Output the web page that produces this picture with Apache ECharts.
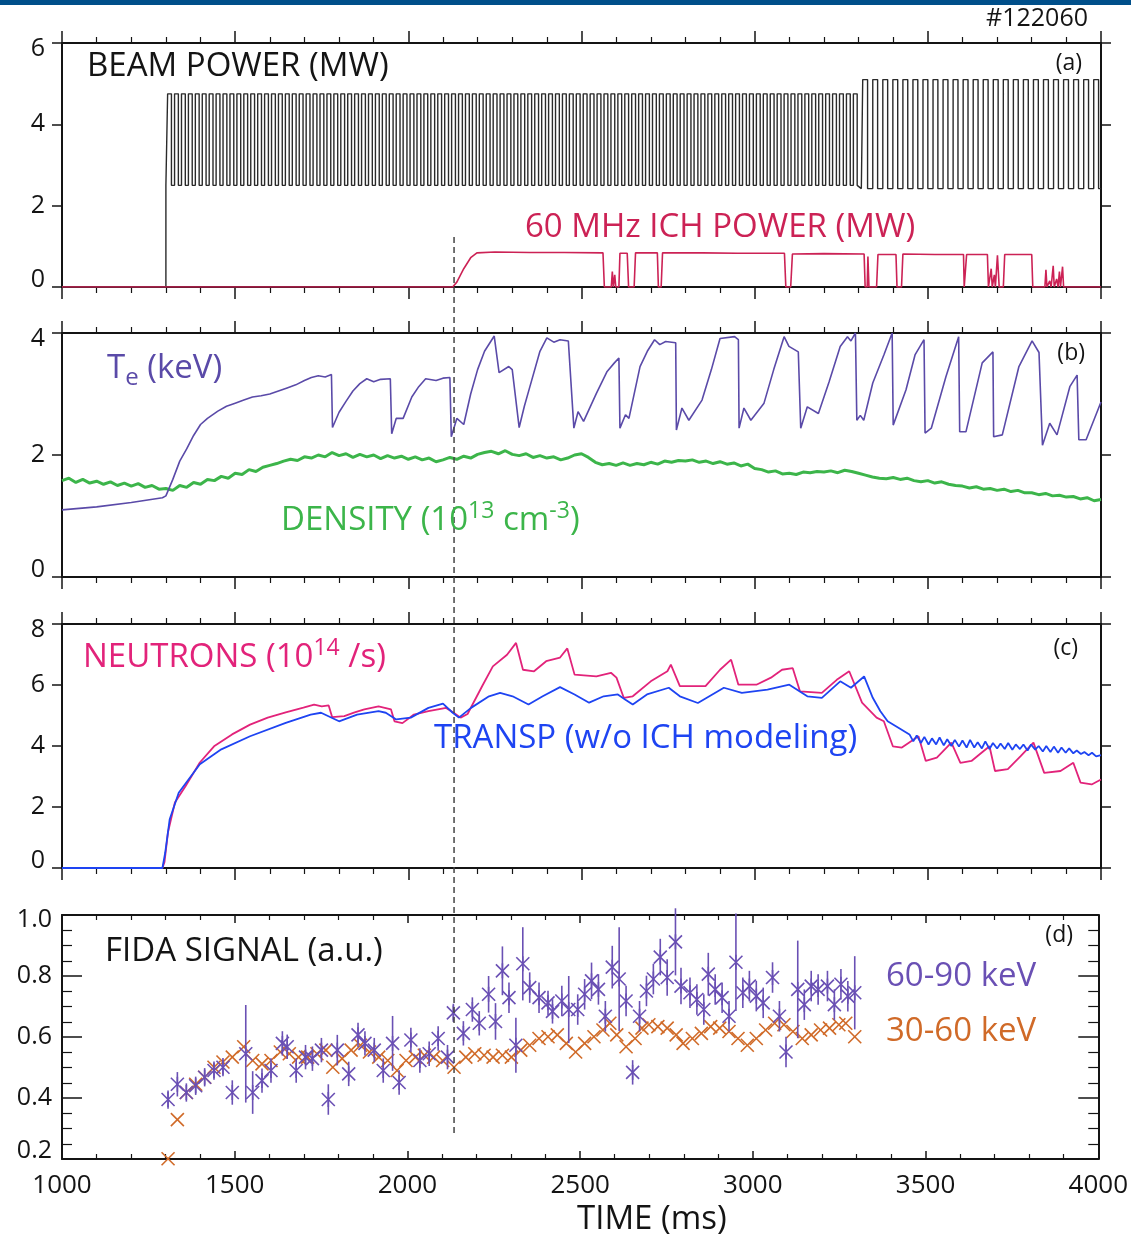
<!DOCTYPE html>
<html><head><meta charset="utf-8">
<script src="https://cdn.jsdelivr.net/npm/echarts@6/dist/echarts.min.js"></script>
<style>html,body{margin:0;padding:0;background:#fff;}#c{width:1131px;height:1241px;}</style>
</head><body><div id="c"></div>
<script>
// ---------------- DATA ----------------
const shotLabel = '#122060';
const xTicks = [1000, 1500, 2000, 2500, 3000, 3500, 4000];

// (a) neutral beam: pulse start times (ms) and levels (MW)
const beamOnTime = 1300;
const beamPulseStartsA = [
 1305,1325,1345,1365,1385,1405,1425,1445,1465,1485,
 1505,1525,1545,1565,1585,1605,1625,1645,1665,1685,
 1705,1725,1745,1765,1785,1805,1825,1845,1865,1885,
 1905,1925,1945,1965,1985,2005,2025,2045,2065,2085,
 2105,2125,2145,2165,2185,2205,2225,2245,2265,2285,
 2305,2325,2345,2365,2385,2405,2425,2445,2465,2485,
 2505,2525,2545,2565,2585,2605,2625,2645,2665,2685,
 2705,2725,2745,2765,2785,2805,2825,2845,2865,2885,
 2905,2925,2945,2965,2985,3005,3025,3045,3065,3085,
 3105,3125,3145,3165,3185,3205,3225,3245,3265,3285];
const beamPulseWidthA = 11, beamLowA = 2.5, beamHighA = 4.75;
const beamPulseStartsB = [3312,3341,3370,3399,3428,3457,3486,3515,3544,3573,3602,3631,
 3660,3689,3718,3747,3776,3805,3834,3863,3892,3921,3950,3979];
const beamPulseWidthB = 14, beamLowB = 2.42, beamHighB = 5.1;

// (a) 60 MHz ICH power (MW)
const ichPower = [[1000,0],[2128,0],[2140,0.12],[2160,0.45],[2180,0.72],[2198,0.84],[2250,0.86],[2350,0.85],
 [2450,0.85],[2562,0.84],[2566,0],[2586,0],[2589,0.38],[2592,0],[2596,0.3],[2599,0],[2608,0],[2611,0.83],
 [2632,0.83],[2636,0],[2652,0],[2656,0.84],[2719,0.84],[2722,0],[2730,0],[2734,0.84],[2850,0.84],[2950,0.83],
 [3086,0.83],[3090,0],[3104,0],[3109,0.81],[3200,0.82],[3316,0.81],[3319,0],[3325,0],[3327,0.75],[3330,0],
 [3352,0],[3356,0.8],[3408,0.8],[3411,0],[3424,0],[3428,0.81],[3520,0.8],[3603,0.8],[3605,0],[3609,0],
 [3612,0.8],[3672,0.8],[3675,0],[3680,0],[3683,0.45],[3686,0],[3692,0.3],[3695,0],[3701,0.78],[3706,0],
 [3718,0],[3722,0.8],[3800,0.8],[3803,0],[3838,0],[3841,0.42],[3844,0],[3852,0.15],[3856,0],[3862,0.52],
 [3865,0],[3872,0.2],[3876,0],[3880,0.38],[3883,0],[3889,0.5],[3892,0],[4000,0]];

// (b) electron temperature (keV)
const electronTemp = [[1000,1.1],[1100,1.15],[1200,1.22],[1290,1.3],[1300,1.33],[1320,1.6],[1340,1.9],[1360,2.1],
 [1380,2.32],[1400,2.5],[1420,2.6],[1450,2.72],[1475,2.8],[1500,2.85],[1525,2.9],[1550,2.95],[1575,2.97],
 [1600,3.0],[1625,3.05],[1650,3.1],[1675,3.15],[1700,3.22],[1720,3.27],[1740,3.3],[1760,3.28],[1778,3.32],
 [1781,2.45],[1800,2.7],[1820,2.88],[1840,3.05],[1860,3.17],[1880,3.25],[1900,3.2],[1920,3.24],[1948,3.25],[1952,2.35],[1965,2.6],[1985,2.6],
 [2010,2.95],[2030,3.12],[2050,3.25],[2080,3.22],[2100,3.26],[2120,3.27],[2124,2.3],[2140,2.6],[2160,2.5],[2180,3.0],[2200,3.4],[2220,3.7],
 [2248,3.95],[2262,3.35],[2290,3.45],[2300,3.4],[2320,2.45],[2335,2.8],[2350,3.1],[2380,3.7],[2400,3.92],[2420,3.85],
 [2438,3.89],[2462,3.87],[2478,2.44],[2490,2.71],[2506,2.55],[2543,3.01],[2574,3.37],[2595,3.51],[2608,3.59],
 [2611,2.44],[2627,2.66],[2637,2.6],[2669,3.45],[2690,3.7],[2711,3.89],[2726,3.81],[2743,3.86],[2772,3.84],[2774,2.41],
 [2790,2.77],[2810,2.57],[2848,2.9],[2875,3.4],[2900,3.91],[2942,3.94],[2953,3.89],[2955,2.44],[2969,2.77],[2989,2.57],
 [3027,2.85],[3055,3.4],[3085,3.94],[3099,3.78],[3126,3.69],[3133,2.44],[3152,2.79],[3184,2.68],[3215,3.2],[3247,3.78],[3268,3.94],
 [3278,3.87],[3291,4.0],[3295,2.57],[3305,2.65],[3315,2.57],[3341,3.18],[3373,3.64],[3397,4.0],[3400,2.49],
 [3437,3.07],[3463,3.64],[3489,3.89],[3492,2.36],[3510,2.44],[3552,3.28],[3589,3.94],[3592,2.38],[3610,2.38],
 [3657,3.51],[3688,3.69],[3690,2.3],[3715,2.33],[3763,3.45],[3801,3.87],[3821,3.68],[3831,2.16],[3852,2.52],
 [3873,2.33],[3910,3.12],[3931,3.31],[3936,2.25],[3957,2.25],[4000,2.87]];

// (b) line density (1e13 cm^-3), sampled every 20 ms from 1000 ms
const densityStart = 1000, densityStep = 20;
const density = [
 1.58,1.62,1.55,1.60,1.54,1.57,1.52,1.56,1.50,1.54,
 1.49,1.53,1.47,1.50,1.44,1.45,1.42,1.50,1.47,1.55,
 1.52,1.60,1.58,1.65,1.62,1.70,1.68,1.76,1.73,1.80,
 1.83,1.86,1.90,1.93,1.91,1.97,1.95,2.00,1.97,2.04,
 1.99,2.02,1.96,2.01,1.97,2.00,1.94,1.99,1.95,1.98,
 1.93,1.97,1.92,1.95,1.89,1.92,1.96,1.93,1.98,1.95,
 2.01,2.04,2.06,2.02,2.07,2.01,1.99,2.02,1.96,1.99,
 1.95,1.97,1.92,1.95,2.00,2.02,1.96,1.88,1.84,1.86,
 1.83,1.87,1.83,1.86,1.84,1.88,1.85,1.90,1.88,1.91,
 1.90,1.92,1.88,1.90,1.86,1.89,1.85,1.87,1.82,1.85,
 1.78,1.76,1.72,1.74,1.69,1.70,1.68,1.72,1.71,1.73,
 1.72,1.74,1.71,1.75,1.73,1.70,1.67,1.64,1.62,1.61,
 1.63,1.60,1.62,1.58,1.56,1.58,1.54,1.56,1.52,1.50,
 1.49,1.46,1.48,1.44,1.45,1.42,1.44,1.40,1.42,1.38,
 1.38,1.35,1.37,1.33,1.34,1.31,1.32,1.28,1.30,1.25,
 1.27];

// (c) measured neutron rate (1e14 /s)
const neutrons = [[1000,0],[1290,0],[1296,0.2],[1306,1.17],[1326,2.15],[1357,2.69],[1398,3.46],[1439,3.99],
 [1491,4.38],[1543,4.7],[1594,4.93],[1646,5.1],[1697,5.26],[1728,5.36],[1750,5.3],[1770,5.33],[1780,4.95],
 [1815,4.98],[1845,5.1],[1873,5.2],[1914,5.3],[1950,5.2],[1960,4.81],[1983,4.75],[2016,5.03],[2058,5.14],
 [2109,5.25],[2130,5.1],[2151,4.93],[2171,5.05],[2213,5.96],[2244,6.61],[2285,6.99],[2311,7.38],[2331,6.5],
 [2363,6.45],[2398,6.78],[2438,6.9],[2459,7.2],[2480,6.34],[2543,6.28],[2585,6.4],[2601,6.24],[2622,5.58],
 [2648,5.63],[2700,6.12],[2748,6.45],[2758,6.67],[2784,5.96],[2858,5.96],[2900,6.5],[2932,6.83],[2953,6.01],
 [3005,6.01],[3047,6.24],[3079,6.5],[3110,6.55],[3131,5.79],[3194,5.74],[3237,6.17],[3273,6.45],[3310,5.42],
 [3352,4.93],[3373,4.81],[3399,3.99],[3425,3.95],[3473,4.32],[3494,3.51],[3526,3.62],[3568,4.11],[3594,3.45],
 [3626,3.51],[3678,3.99],[3694,3.18],[3731,3.24],[3768,3.67],[3805,4.11],[3836,3.12],[3883,3.18],[3920,3.45],
 [3941,2.8],[3973,2.74],[4000,2.9]];

// (c) TRANSP prediction (1e14 /s)
const transp = [[1000,0],[1290,0],[1298,0.5],[1311,1.6],[1337,2.47],[1398,3.4],[1460,3.89],[1543,4.32],
 [1646,4.76],[1718,5.03],[1748,5.09],[1800,4.81],[1852,5.03],[1914,5.14],[1935,5.09],[1965,4.87],[2007,4.93],
 [2058,5.25],[2100,5.39],[2128,5.09],[2146,4.93],[2181,5.25],[2233,5.63],[2265,5.74],[2301,5.63],[2347,5.36],
 [2388,5.63],[2438,5.93],[2480,5.69],[2522,5.42],[2564,5.63],[2605,5.69],[2627,5.52],[2648,5.36],[2689,5.69],
 [2752,5.91],[2784,5.63],[2836,5.41],[2911,5.91],[2963,5.74],[3037,5.85],[3100,6.01],[3152,5.63],[3194,5.58],
 [3247,6.12],[3278,5.91],[3316,6.28],[3341,5.58],[3363,5.14],[3384,4.81],[3415,4.6],[3447,4.38],[3458,4.15],
 [3468,4.35],[3480,4.1],[3490,4.3],[3502,4.05],[3512,4.25],[3524,4.05],[3534,4.28],[3546,4.02],[3556,4.22],
 [3568,4.0],[3578,4.2],[3590,3.98],[3600,4.18],[3612,3.95],[3622,4.2],[3634,3.95],[3644,4.12],[3656,3.92],
 [3666,4.15],[3678,3.9],[3688,4.1],[3700,3.92],[3710,4.08],[3722,3.9],[3732,4.1],[3744,3.88],[3754,4.05],
 [3766,3.9],[3776,4.05],[3788,3.85],[3798,4.05],[3810,3.88],[3820,4.0],[3832,3.82],[3842,4.0],[3854,3.8],
 [3864,3.98],[3876,3.78],[3886,3.95],[3898,3.78],[3908,3.92],[3920,3.76],[3930,3.85],[3942,3.74],[3952,3.8],
 [3964,3.7],[3974,3.78],[3986,3.66],[4000,3.7]];

// (d) FIDA 60-90 keV: time, signal, error half-width
const fida90T = [1307,1334,1360,1387,1413,1440,1466,1493,1532,1552,1579,1605,1638,1652,1678,1705,1725,1751,1771,1797,
 1830,1857,1877,1904,1930,1957,1976,2010,2036,2063,2089,2116,2133,2162,2188,2208,2235,2255,2275,2294,
 2314,2334,2354,2381,2407,2420,2447,2467,2493,2513,2533,2553,2573,2593,2613,2633,2652,2672,2692,2712,
 2732,2752,2776,2792,2818,2838,2858,2871,2891,2911,2931,2951,2971,2990,3010,3030,3057,3077,3096,3130,
 3149,3169,3189,3216,3236,3255,3275,3295];
const fida90V = [0.395,0.445,0.418,0.44,0.468,0.49,0.501,0.418,0.545,0.418,0.457,0.49,0.579,0.568,0.49,0.534,0.529,0.557,0.395,0.557,
 0.479,0.607,0.579,0.557,0.49,0.579,0.451,0.59,0.523,0.545,0.595,0.534,0.679,0.612,0.69,0.645,0.74,0.651,0.817,0.729,
 0.573,0.84,0.762,0.729,0.712,0.684,0.718,0.69,0.69,0.74,0.784,0.756,0.668,0.829,0.79,0.718,0.484,0.668,0.751,0.79,
 0.862,0.795,0.912,0.767,0.745,0.723,0.69,0.806,0.756,0.729,0.668,0.845,0.745,0.767,0.734,0.712,0.795,0.668,0.551,0.756,
 0.706,0.767,0.756,0.767,0.706,0.773,0.734,0.745];
const fida90Err = [0.03,0.04,0.03,0.03,0.03,0.03,0.03,0.04,0.16,0.07,0.04,0.04,0.04,0.04,0.04,0.04,0.04,0.04,0.05,0.05,
 0.04,0.04,0.04,0.04,0.04,0.09,0.04,0.04,0.04,0.04,0.04,0.04,0.03,0.04,0.04,0.04,0.06,0.06,0.08,0.05,
 0.09,0.12,0.05,0.05,0.04,0.04,0.05,0.11,0.05,0.05,0.06,0.05,0.05,0.07,0.17,0.05,0.04,0.05,0.05,0.05,
 0.06,0.06,0.11,0.06,0.05,0.05,0.05,0.07,0.05,0.05,0.05,0.16,0.05,0.05,0.05,0.05,0.05,0.05,0.05,0.16,
 0.05,0.05,0.05,0.05,0.05,0.05,0.05,0.12];

// (d) FIDA 30-60 keV
const fida30T = [1307,1334,1360,1387,1413,1440,1466,1493,1526,1552,1579,1605,1632,1658,1685,1711,1738,1764,1784,1811,
 1837,1864,1890,1917,1943,1970,1996,2023,2049,2076,2102,2135,2169,2195,2222,2248,2275,2301,2328,2354,
 2381,2407,2434,2460,2487,2513,2540,2566,2586,2606,2633,2659,2679,2699,2725,2752,2778,2798,2825,2851,
 2878,2904,2931,2957,2984,3010,3037,3063,3090,3116,3143,3169,3196,3222,3249,3269,3295];
const fida30V = [0.201,0.329,0.418,0.445,0.468,0.501,0.518,0.534,0.568,0.523,0.512,0.523,0.551,0.545,0.534,0.534,0.545,0.557,0.501,0.529,
 0.557,0.573,0.551,0.534,0.523,0.49,0.523,0.534,0.54,0.534,0.523,0.501,0.534,0.545,0.54,0.534,0.54,0.534,0.557,0.573,
 0.595,0.601,0.607,0.579,0.551,0.579,0.601,0.623,0.645,0.607,0.568,0.595,0.629,0.64,0.634,0.629,0.607,0.579,0.595,0.612,
 0.634,0.629,0.618,0.595,0.573,0.595,0.623,0.645,0.64,0.618,0.595,0.607,0.623,0.629,0.64,0.645,0.601];

const ichStartTime = 2132;   // dashed marker

// ---------------- BUILD ----------------
const FONT = '"Open Sans", "Noto Sans", sans-serif';
const INK = '#141414';
const C_BEAM = '#2a2a2a', C_ICH = '#cc2255', C_TE = '#5a4aa8', C_DEN = '#3cb54a',
      C_NEU = '#e2237a', C_TR = '#1e44f2', C_F90 = '#6a50b4', C_F30 = '#d06a28';

const beamData = [[1000,0],[beamOnTime,0],[beamOnTime,beamLowA]];
beamPulseStartsA.forEach(s => { beamData.push([s,beamLowA],[s,beamHighA],[s+beamPulseWidthA,beamHighA],[s+beamPulseWidthA,beamLowA]); });
beamData.push([beamPulseStartsB[0]-4, beamLowB]);
beamPulseStartsB.forEach(s => { beamData.push([s,beamLowB],[s,beamHighB],[s+beamPulseWidthB,beamHighB],[s+beamPulseWidthB,beamLowB]); });
beamData.push([4000,beamLowB]);

const densityData = density.map((v,i) => [densityStart + i*densityStep, v]);
const f90Data = fida90T.map((t,i) => [t, fida90V[i], fida90Err[i]]);
const f30Data = fida30T.map((t,i) => [t, fida30V[i]]);

const Y_RANGES = [[0,6,2],[0,4,2],[0,8,2],[0.2,1.0,0.2]];
const GRID_TOPS = [43, 333, 624, 915];

function xAx(i, pos) {
  const inside = i === 3;
  return {
    type:'value', gridIndex:i, position:pos, min:xTicks[0], max:xTicks[xTicks.length-1], interval:xTicks[1]-xTicks[0],
    axisLine:{show:true,onZero:false,lineStyle:{color:INK,width:2}},
    axisTick:{show:true,inside:inside,length:inside?8:12,lineStyle:{color:INK,width:1.5}},
    minorTick:{show:true,splitNumber:5,length:inside?5:6,lineStyle:{color:INK,width:1.2}},
    splitLine:{show:false}, minorSplitLine:{show:false},
    axisLabel:{show:(i===3 && pos==='bottom'), margin:14, fontSize:26, fontFamily:FONT, color:INK, formatter:v=>String(v)}
  };
}
function yAx(i, pos) {
  const [mn,mx,iv] = Y_RANGES[i];
  const inside = i === 3;
  const fmt = v => inside ? v.toFixed(1) : String(Math.round(v));
  const base = {fontSize:25, fontFamily:FONT, color:INK};
  return {
    type:'value', gridIndex:i, position:pos, min:mn, max:mx, interval:iv,
    axisLine:{show:true,onZero:false,lineStyle:{color:INK,width:2}},
    axisTick:{show:true,inside:inside,length:inside?20:10,lineStyle:{color:INK,width:1.5}},
    minorTick:{show:inside,splitNumber:4,length:10,lineStyle:{color:INK,width:1.2}},
    splitLine:{show:false}, minorSplitLine:{show:false},
    axisLabel:{show:pos==='left', margin:inside?10:17, fontSize:25, fontFamily:FONT, color:INK,
      formatter: v => Math.abs(v-mx)<1e-6 ? '{t|'+fmt(v)+'}' : (Math.abs(v-mn)<1e-6 ? '{b|'+fmt(v)+'}' : fmt(v)),
      rich:{ t:Object.assign({padding:[inside?10:12,0,0,0]},base), b:Object.assign({padding:[0,0,inside?16:14,0]},base) }
    }
  };
}

const grids=[], xAxes=[], yAxes=[];
for (let i=0;i<4;i++) {
  grids.push({left:62, right:30, top:GRID_TOPS[i], height:244, containLabel:false});
  xAxes.push(xAx(i,'bottom')); xAxes.push(xAx(i,'top'));
  yAxes.push(yAx(i,'left'));  yAxes.push(yAx(i,'right'));
}

function lineSeries(name, data, gi, color, width) {
  return {name, type:'line', xAxisIndex:2*gi, yAxisIndex:2*gi, data, showSymbol:false, symbol:'none',
    lineStyle:{color, width}, itemStyle:{color}, animation:false, silent:true, clip:true};
}

const series = [
  lineSeries('beam', beamData, 0, C_BEAM, 1.4),
  lineSeries('ich', ichPower, 0, C_ICH, 1.6),
  lineSeries('density', densityData, 1, C_DEN, 3),
  lineSeries('te', electronTemp, 1, C_TE, 1.6),
  lineSeries('neutrons', neutrons, 2, C_NEU, 1.8),
  lineSeries('transp', transp, 2, C_TR, 1.8),
  { name:'fida30', type:'custom', xAxisIndex:6, yAxisIndex:6, data:f30Data, animation:false, silent:true,
    encode:{x:0,y:1},
    renderItem:(params, api) => {
      const p = api.coord([api.value(0), api.value(1)]); const s = 6.5;
      const st = {stroke:C_F30, lineWidth:1.6};
      return {type:'group', children:[
        {type:'line', shape:{x1:p[0]-s,y1:p[1]-s,x2:p[0]+s,y2:p[1]+s}, style:st},
        {type:'line', shape:{x1:p[0]-s,y1:p[1]+s,x2:p[0]+s,y2:p[1]-s}, style:st}]};
    }},
  { name:'fida90', type:'custom', xAxisIndex:6, yAxisIndex:6, data:f90Data, animation:false, silent:true,
    encode:{x:0,y:1},
    renderItem:(params, api) => {
      const t = api.value(0), v = api.value(1), e = api.value(2);
      const p = api.coord([t,v]), pt = api.coord([t,v+e]), pb = api.coord([t,v-e]); const s = 6.5;
      const st = {stroke:C_F90, lineWidth:1.6};
      return {type:'group', children:[
        {type:'line', shape:{x1:pt[0],y1:pt[1],x2:pb[0],y2:pb[1]}, style:st},
        {type:'line', shape:{x1:p[0],y1:p[1]-s-1,x2:p[0],y2:p[1]+s+1}, style:st},
        {type:'line', shape:{x1:p[0]-s,y1:p[1]-s,x2:p[0]+s,y2:p[1]+s}, style:st},
        {type:'line', shape:{x1:p[0]-s,y1:p[1]+s,x2:p[0]+s,y2:p[1]-s}, style:st}]};
    }}
];

const chart = echarts.init(document.getElementById('c'), null, {renderer:'canvas'});
chart.setOption({backgroundColor:'#ffffff', animation:false, grid:grids, xAxis:xAxes, yAxis:yAxes, series});

// annotations
const dx = chart.convertToPixel({xAxisIndex:0}, ichStartTime);
const dyTop = chart.convertToPixel({yAxisIndex:0}, 1.23);
const dyBot = chart.convertToPixel({yAxisIndex:6}, 0.285);

function txt(text, x, y, color, size, align) {
  return {type:'text', z:100, style:{text, x, y, fill:color, font: size+'px '+FONT, textAlign:align||'left', textVerticalAlign:'middle'}};
}
function rich(text, x, y, color, richDef) {
  return {type:'text', z:100, style:{text, x, y, fill:color, fontFamily:FONT, fontSize:33, textAlign:'left', textVerticalAlign:'middle', rich:richDef}};
}
const supRich = c => ({n:{fontSize:33, lineHeight:42, fill:c, fontFamily:FONT}, sup:{fontSize:23, lineHeight:22, verticalAlign:'top', fill:c, fontFamily:FONT}});
const subRich = c => ({n:{fontSize:33, lineHeight:42, fill:c, fontFamily:FONT}, sub:{fontSize:24, lineHeight:22, verticalAlign:'bottom', fill:c, fontFamily:FONT}});

chart.setOption({graphic:[
  {type:'rect', shape:{x:0,y:0,width:1131,height:5}, style:{fill:'#004f8a'}, z:100},
  {type:'line', z:90, shape:{x1:dx,y1:dyTop,x2:dx,y2:dyBot}, style:{stroke:'#444', lineWidth:1.5, lineDash:[6,4]}},
  txt(shotLabel, 1088, 19, INK, 25, 'right'),
  txt('(a)', 1082, 63, INK, 23, 'right'),
  txt('BEAM POWER (MW)', 87, 67, INK, 33),
  txt('60 MHz ICH POWER (MW)', 525, 228, C_ICH, 33),
  txt('(b)', 1085, 353, INK, 23, 'right'),
  rich('{n|T}{sub|e}{n| (keV)}', 107, 369, C_TE, subRich(C_TE)),
  rich('{n|DENSITY (10}{sup|13}{n| cm}{sup|-3}{n|)}', 281, 521, C_DEN, supRich(C_DEN)),
  rich('{n|NEUTRONS (10}{sup|14}{n| /s)}', 83, 658, C_NEU, supRich(C_NEU)),
  txt('(c)', 1078, 648, INK, 23, 'right'),
  txt('TRANSP (w/o ICH modeling)', 434, 739, C_TR, 33),
  txt('FIDA SIGNAL (a.u.)', 105, 952, INK, 33),
  txt('(d)', 1073, 935, INK, 23, 'right'),
  txt('60-90 keV', 886, 977, C_F90, 33),
  txt('30-60 keV', 886, 1032, C_F30, 33),
  txt('TIME (ms)', 577, 1220, INK, 33)
]});
</script></body></html>
